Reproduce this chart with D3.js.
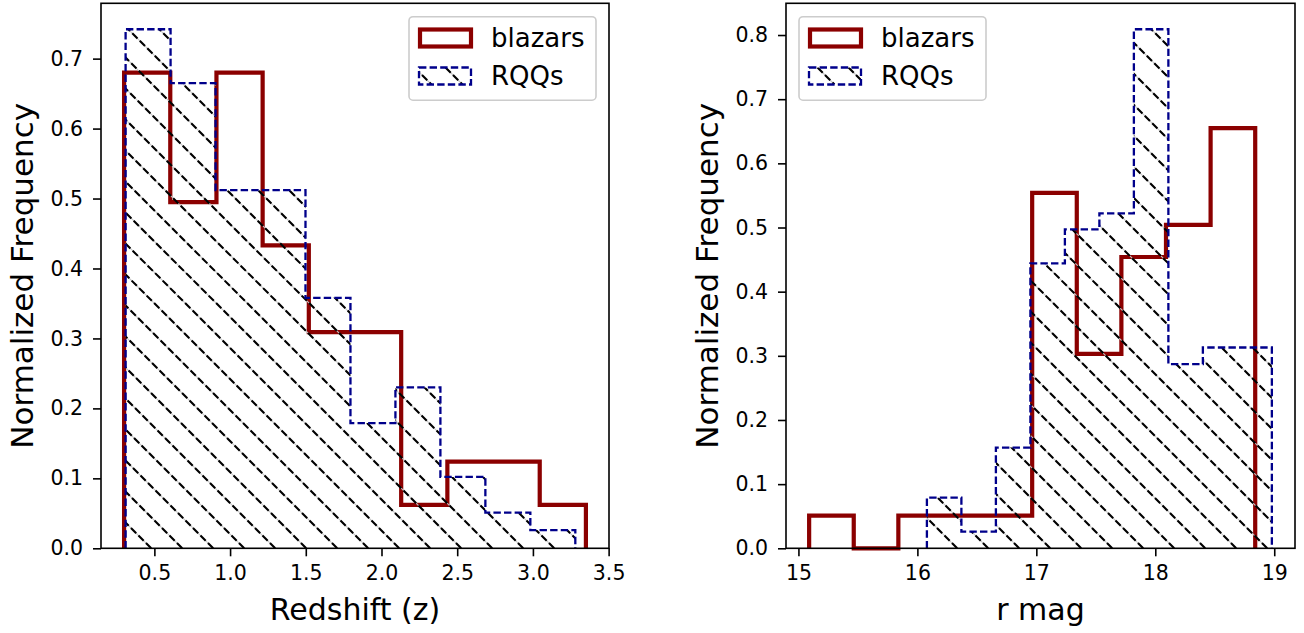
<!DOCTYPE html>
<html>
<head>
<meta charset="utf-8">
<script src="https://cdn.jsdelivr.net/npm/d3@7"></script>
<style>
  body { margin: 0; background: #fff; }
  svg { display: block; font-family: "DejaVu Sans", sans-serif; }
</style>
</head>
<body>
<div id="chart"></div>
<script>
// histogram data (normalized frequency per bin)
const zBlazarEdges = [0.30, 0.605, 0.91, 1.215, 1.52, 1.825, 2.13, 2.435, 2.74, 3.045, 3.35];
const zBlazarValues = [0.680, 0.495, 0.680, 0.433, 0.309, 0.309, 0.062, 0.124, 0.124, 0.062];
const zRqqEdges = [0.31, 0.607, 0.904, 1.201, 1.498, 1.795, 2.092, 2.389, 2.686, 2.983, 3.28];
const zRqqValues = [0.742, 0.665, 0.512, 0.512, 0.358, 0.179, 0.230, 0.102, 0.051, 0.026];

const magBlazarEdges = [15.09, 15.465, 15.84, 16.215, 16.59, 16.965, 17.34, 17.715, 18.09, 18.465, 18.84];
const magBlazarValues = [0.051, 0.0, 0.051, 0.051, 0.051, 0.554, 0.303, 0.454, 0.504, 0.655];
const magRqqEdges = [16.08, 16.37, 16.66, 16.95, 17.24, 17.53, 17.82, 18.11, 18.40, 18.69, 18.98];
const magRqqValues = [0.079, 0.026, 0.157, 0.444, 0.497, 0.522, 0.809, 0.287, 0.313, 0.313];

const zTicks = [0.5, 1.0, 1.5, 2.0, 2.5, 3.0, 3.5];
const magTicks = [15, 16, 17, 18, 19];
const zYTicks = [0.0, 0.1, 0.2, 0.3, 0.4, 0.5, 0.6, 0.7];
const magYTicks = [0.0, 0.1, 0.2, 0.3, 0.4, 0.5, 0.6, 0.7, 0.8];

const seriesNames = ["blazars", "RQQs"];

const W = 1304, H = 633;
const red = "#8b0000", navy = "#00008b";
const tickFont = 20.5, xLabelFont = 30, yLabelFont = 31, legendFont = 26;
const hatchStep = 31, hatchPhase = 6;

const svg = d3.select("#chart").append("svg")
    .attr("width", W)
    .attr("height", H);

const defs = svg.append("defs");

const panels = [
    { id: "z", left: 101, right: 609, blazar: [zBlazarEdges, zBlazarValues], rqq: [zRqqEdges, zRqqValues],
      xTicks: zTicks, xFmt: d3.format(".1f"), yTicks: zYTicks, xLabel: "Redshift (z)", legendX: 409 },
    { id: "mag", left: 786, right: 1295, blazar: [magBlazarEdges, magBlazarValues], rqq: [magRqqEdges, magRqqValues],
      xTicks: magTicks, xFmt: d3.format("d"), yTicks: magYTicks, xLabel: "r mag", legendX: 799 }
];
const axTop = 3.3, axBottom = 548.3;

// diagonal "\" hatch lines drawn in page coordinates, clipped to a shape
function hatch(g, clipId, x0, x1, y0, y1) {
    const hg = g.append("g").attr("clip-path", "url(#" + clipId + ")");
    const cs = d3.range(Math.floor((x0 - y1 - hatchPhase) / hatchStep), Math.ceil((x1 - y0 - hatchPhase) / hatchStep) + 1)
        .map(k => hatchPhase + k * hatchStep);
    hg.selectAll(".hbg").data(cs).enter().append("line")
        .attr("x1", c => y0 + c).attr("y1", y0)
        .attr("x2", c => y1 + c).attr("y2", y1)
        .attr("stroke", "#c4c4c4").attr("stroke-width", 1.1);
    hg.selectAll(".hfg").data(cs).enter().append("line")
        .attr("x1", c => y0 + c).attr("y1", y0)
        .attr("x2", c => y1 + c).attr("y2", y1)
        .attr("stroke", "#000").attr("stroke-width", 2.1)
        .attr("stroke-dasharray", "7.4,3.2");
}

function stepPoints(edges, values) {
    const pts = [[edges[0], 0]];
    values.forEach((v, i) => {
        pts.push([edges[i], v]);
        pts.push([edges[i + 1], v]);
    });
    pts.push([edges[edges.length - 1], 0]);
    return pts;
}

panels.forEach(p => {
    const g = svg.append("g");

    const allEdges = p.blazar[0].concat(p.rqq[0]);
    const xmin = d3.min(allEdges), xmax = d3.max(allEdges);
    const pad = (xmax - xmin) * 0.05;
    const ymax = d3.max(p.blazar[1].concat(p.rqq[1])) * 1.05;

    const x = d3.scaleLinear().domain([xmin - pad, xmax + pad]).range([p.left, p.right]);
    const y = d3.scaleLinear().domain([0, ymax]).range([axBottom, axTop]);

    const line = d3.line().x(d => x(d[0])).y(d => y(d[1]));

    // blazars: thick dark red step outline
    g.append("path")
        .attr("d", line(stepPoints(p.blazar[0], p.blazar[1])))
        .attr("fill", "none")
        .attr("stroke", red)
        .attr("stroke-width", 4.2)
        .attr("stroke-linejoin", "miter");

    // RQQs: hatched area with dashed navy outline
    const rqqPts = stepPoints(p.rqq[0], p.rqq[1]);
    defs.append("clipPath").attr("id", "clip-" + p.id)
      .append("path").attr("d", line(rqqPts) + "Z");
    hatch(g, "clip-" + p.id, p.left, p.right, axTop, axBottom);
    g.append("path")
        .attr("d", line(rqqPts))
        .attr("fill", "none")
        .attr("stroke", navy)
        .attr("stroke-width", 2.3)
        .attr("stroke-dasharray", "7.4,3.2");

    // axes
    const xAxis = g.append("g")
        .attr("transform", "translate(0," + axBottom + ")")
        .call(d3.axisBottom(x).tickValues(p.xTicks).tickFormat(p.xFmt).tickSize(8).tickPadding(9));
    const yAxis = g.append("g")
        .attr("transform", "translate(" + p.left + ",0)")
        .call(d3.axisLeft(y).tickValues(p.yTicks).tickFormat(d3.format(".1f")).tickSize(8).tickPadding(10));
    [xAxis, yAxis].forEach(a => {
        a.select(".domain").remove();
        a.selectAll("line").attr("stroke", "#000").attr("stroke-width", 1.6);
        a.selectAll("text").attr("fill", "#000")
            .style("font-size", tickFont + "px")
            .style("font-family", "DejaVu Sans");
    });

    g.append("rect")
        .attr("x", p.left).attr("y", axTop)
        .attr("width", p.right - p.left).attr("height", axBottom - axTop)
        .attr("fill", "none").attr("stroke", "#000").attr("stroke-width", 1.6);

    g.append("text")
        .attr("x", (p.left + p.right) / 2)
        .attr("y", 620)
        .attr("text-anchor", "middle")
        .style("font-size", xLabelFont + "px")
        .text(p.xLabel);

    g.append("text")
        .attr("transform", "translate(" + (p.left - 68) + "," + ((axTop + axBottom) / 2) + ") rotate(-90)")
        .attr("text-anchor", "middle")
        .style("font-size", yLabelFont + "px")
        .text("Normalized Frequency");

    // legend
    const lx = p.legendX, ly = 16.7;
    const lg = g.append("g");
    lg.append("rect")
        .attr("x", lx).attr("y", ly)
        .attr("width", 187).attr("height", 83.5)
        .attr("rx", 4)
        .attr("fill", "#fff").attr("fill-opacity", 0.8)
        .attr("stroke", "#cccccc").attr("stroke-width", 1.6);
    const rows = [38, 76];
    lg.append("rect")
        .attr("x", lx + 11).attr("y", rows[0] - 8.5)
        .attr("width", 51).attr("height", 17)
        .attr("fill", "none").attr("stroke", red).attr("stroke-width", 4.2);
    defs.append("clipPath").attr("id", "legclip-" + p.id)
      .append("rect").attr("x", lx + 10).attr("y", rows[1] - 8.5).attr("width", 52).attr("height", 17);
    hatch(lg, "legclip-" + p.id, lx + 10, lx + 62, rows[1] - 8.5, rows[1] + 8.5);
    lg.append("rect")
        .attr("x", lx + 10).attr("y", rows[1] - 8.5)
        .attr("width", 52).attr("height", 17)
        .attr("fill", "none").attr("stroke", navy).attr("stroke-width", 2.3)
        .attr("stroke-dasharray", "7.4,3.2");
    lg.selectAll(".ltext").data(seriesNames).enter().append("text")
        .attr("x", lx + 82)
        .attr("y", (d, i) => rows[i])
        .attr("dy", "0.35em")
        .style("font-size", legendFont + "px")
        .text(d => d);
});
</script>
</body>
</html>
